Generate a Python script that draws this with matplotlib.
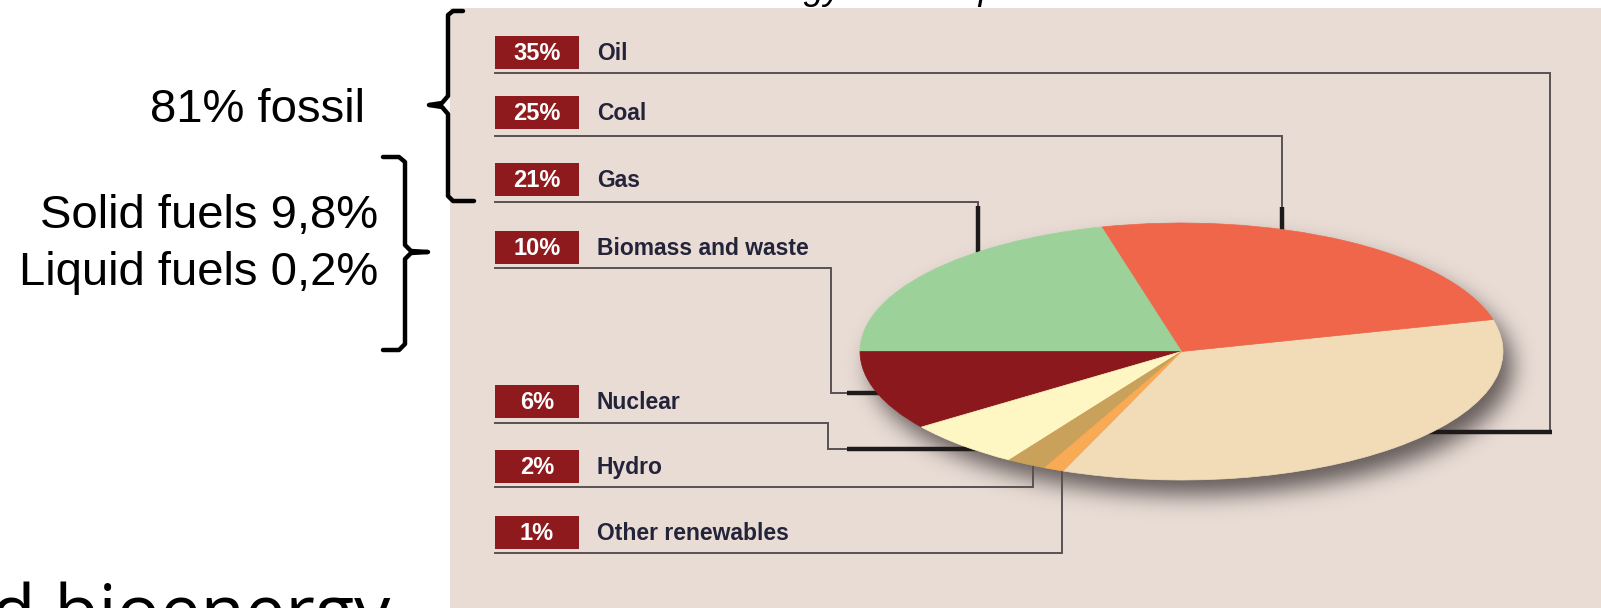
import numpy as np
import matplotlib
matplotlib.use("Agg")
import matplotlib.pyplot as plt
from matplotlib.patches import Rectangle
from matplotlib.path import Path
from matplotlib.patches import PathPatch

plt.rcParams['font.family'] = ['Liberation Sans', 'DejaVu Sans']

# 世界一次能源构成（%）
sources = ["Oil", "Coal", "Gas", "Biomass and waste", "Nuclear", "Hydro", "Other renewables"]
shares = [35, 25, 21, 10, 6, 2, 1]
colors = ["#F2DCB8", "#F0664A", "#9DD19A", "#8B181C", "#FEF7C3", "#C9A15A", "#F8AA55"]

# 生物质细分
biomass_parts = ["Solid fuels", "Liquid fuels"]
biomass_values = [9.8, 0.2]
n_fossil = 3

W, H = 1601, 608
fig = plt.figure(figsize=(W / 100, H / 100), dpi=100)
fig.patch.set_facecolor("white")

# 整张图用像素坐标的底层坐标轴
ax = fig.add_axes([0, 0, 1, 1], zorder=0)
ax.set_xlim(0, W)
ax.set_ylim(H, 0)
ax.axis("off")

BG = "#E9DCD5"
ax.add_patch(Rectangle((450, 8), W - 450, H - 8, fc=BG, ec="none", zorder=0))

# 饼图椭圆位置（像素）
x0, x1, y0, y1 = 860, 1503, 223, 480
cx, cy = (x0 + x1) / 2, (y0 + y1) / 2
ra, rb = (x1 - x0) / 2, (y1 - y0) / 2

# 阴影：偏移椭圆 + 高斯模糊
yy, xx = np.mgrid[0:H, 0:W] + 0.5
mask = ((((xx - cx - 10) / ra) ** 2 + ((yy - cy - 15) / rb) ** 2) <= 1).astype(float)
sig = 11.0
t = np.arange(-36, 37)
k = np.exp(-t ** 2 / (2 * sig ** 2))
k /= k.sum()
blur = np.apply_along_axis(lambda r: np.convolve(r, k, mode="same"), 1, mask)
blur = np.apply_along_axis(lambda c: np.convolve(c, k, mode="same"), 0, blur)
shadow = np.zeros((H, W, 4))
shadow[..., :3] = (0.27, 0.24, 0.24)
shadow[..., 3] = 0.8 * blur
ax.imshow(shadow, extent=(0, W, H, 0), zorder=1, interpolation="bilinear")
ax.set_aspect("auto")
ax.set_xlim(0, W)
ax.set_ylim(H, 0)

# 图例标签行
box_tops = [36, 96, 163, 231, 385, 450, 516]
box_l, box_w, box_h = 495, 84, 33
for name, v, top in zip(sources, shares, box_tops):
    ax.add_patch(Rectangle((box_l, top), box_w, box_h, fc="#8E1A1E", ec="none", zorder=2))
    ax.text(box_l + box_w / 2, top + box_h / 2 + 1, f"{v}%", color="white", fontsize=17,
            fontweight="bold", ha="center", va="center", zorder=3)
    ax.text(597, top + box_h / 2 + 1, name, color="#23233A", fontsize=16.5,
            fontweight="bold", ha="left", va="center", zorder=3)

# 引线（细线 + 靠近饼图的粗线）
thin = [
    [(495, 73), (1550, 73), (1550, 432)],
    [(495, 136), (1282, 136), (1282, 208)],
    [(495, 202), (978, 202), (978, 207)],
    [(495, 268), (831, 268), (831, 393), (847, 393)],
    [(495, 423), (828, 423), (828, 449), (847, 449)],
    [(495, 487), (1033, 487), (1033, 462)],
    [(495, 553), (1062, 553), (1062, 468)],
]
thick = [
    [(1552, 432), (1420, 432)],
    [(1282, 207), (1282, 240)],
    [(978, 206), (978, 260)],
    [(847, 393), (890, 393)],
    [(847, 449), (985, 449)],
    None,
    None,
]
for seg, tk in zip(thin, thick):
    px, py = zip(*seg)
    ax.plot(px, py, color="#595252", lw=1.4, solid_joinstyle="miter", zorder=1.5)
    if tk:
        px, py = zip(*tk)
        ax.plot(px, py, color="#1E1A1A", lw=3.2, solid_capstyle="butt", zorder=1.5)

# 饼图（拉伸坐标轴得到椭圆）
pax = fig.add_axes([x0 / W, 1 - y1 / H, (x1 - x0) / W, (y1 - y0) / H], zorder=2)
start = 180 + 360 * sum(shares[:n_fossil]) / sum(shares) * -1 + 360
wedges, _ = pax.pie(shares, colors=colors, startangle=start, counterclock=True,
                    wedgeprops=dict(linewidth=0))
for w in wedges:
    w.set_edgecolor(w.get_facecolor())
    w.set_linewidth(0.5)
pax.set_aspect("auto")
pax.set_xlim(-1, 1)
pax.set_ylim(-1, 1)
pax.axis("off")
pax.patch.set_alpha(0)

# 左侧注释
fossil = sum(shares[:n_fossil])
ax.text(365, 122, f"{fossil}% fossil", fontsize=34, ha="right", va="baseline", color="black")
for i, (lab, v) in enumerate(zip(biomass_parts, biomass_values)):
    ax.text(378, 228 + 57 * i, f"{lab} {v:.1f}%".replace(".", ","), fontsize=34,
            ha="right", va="baseline", color="black")


def bracket(points, lw=3.2):
    verts, codes = [], []
    for i, p in enumerate(points):
        verts.append(p)
        codes.append(Path.MOVETO if i == 0 else Path.LINETO)
    ax.add_patch(PathPatch(Path(verts, codes), fc="none", ec="black", lw=lw,
                           capstyle="round", joinstyle="round", zorder=4))


# 化石能源括号
bracket([(463, 11), (453, 11), (448, 15), (448, 96), (442, 103), (429, 105),
         (442, 107), (448, 114), (448, 196), (453, 201), (474, 201)])
# 生物质括号
bracket([(383, 157), (399, 157), (405, 162), (405, 245), (411, 251), (428, 252),
         (411, 253), (405, 259), (405, 344), (399, 350), (383, 350)])

# 被裁切的标题与正文
ax.text(627, -1, "World energy consumption", fontsize=26, style="italic",
        ha="left", va="baseline", color="black")
ax.text(390, 636, "and bioenergy", fontsize=52, family=["Open Sans", "DejaVu Sans"],
        ha="right", va="baseline", color="black")

fig.savefig("out.png", dpi=100, facecolor=fig.get_facecolor())
